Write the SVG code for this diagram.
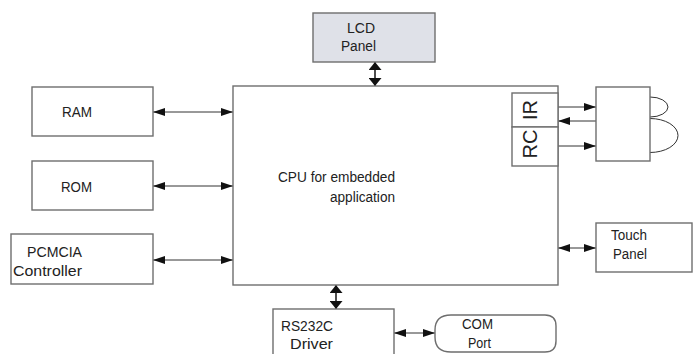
<svg xmlns="http://www.w3.org/2000/svg" width="693" height="354" viewBox="0 0 693 354">
<style>
.box{fill:#fff;stroke:#6e6e6e;stroke-width:1.4}
.lcd{fill:#dfe1e8;stroke:#6e6e6e;stroke-width:1.4}
.t{font-family:"Liberation Sans",Arial,sans-serif;font-size:15.5px;fill:#222}
.big{font-family:"Liberation Sans",Arial,sans-serif;font-size:20px;fill:#222}
.c{stroke:#333;stroke-width:1;fill:none}
.ch{stroke:#333;stroke-width:1;fill:none;marker-start:url(#h);marker-end:url(#h)}
.cv{stroke:#222;stroke-width:1.6;fill:none;marker-start:url(#v);marker-end:url(#v)}
</style>
<defs>
<marker id="h" viewBox="0 0 12 8" refX="12" refY="4" markerWidth="12" markerHeight="8" markerUnits="userSpaceOnUse" orient="auto-start-reverse"><path d="M0,0L12,4L0,8z" fill="#111"/></marker>
<marker id="h1" viewBox="0 0 12 8" refX="12" refY="4" markerWidth="12" markerHeight="8" markerUnits="userSpaceOnUse" orient="auto"><path d="M0,0L12,4L0,8z" fill="#111"/></marker>
<marker id="v" viewBox="0 0 8 13" refX="8" refY="6.5" markerWidth="8" markerHeight="13" markerUnits="userSpaceOnUse" orient="auto-start-reverse"><path d="M0,0L8,6.5L0,13z" fill="#111"/></marker>
</defs>
<g id="connectors">
<line class="cv" x1="375" y1="62" x2="375" y2="86"/>
<line class="ch" x1="153" y1="112" x2="233" y2="112"/>
<line class="ch" x1="153" y1="186" x2="233" y2="186"/>
<line class="ch" x1="153" y1="260" x2="233" y2="260"/>
<line class="c" x1="558" y1="107" x2="596" y2="107" marker-end="url(#h1)"/>
<line class="c" x1="596" y1="121" x2="558" y2="121" marker-end="url(#h1)"/>
<line class="c" x1="558" y1="146" x2="596" y2="146" marker-end="url(#h1)"/>
<line class="ch" x1="558" y1="248" x2="596" y2="248"/>
<line class="cv" x1="336" y1="285" x2="336" y2="309"/>
<line class="ch" x1="394" y1="333" x2="435" y2="333"/>
<path class="c" d="M650,97 A18,10 0 0 1 650,117" stroke="#555"/>
<path class="c" d="M650,118.5 A28,17 0 0 1 650,152.5" stroke="#555"/>
</g>
<g id="cpu">
<rect class="box" x="233" y="86" width="325" height="199"/>
<text class="t" x="278" y="182" textLength="117" lengthAdjust="spacingAndGlyphs">CPU for embedded</text>
<text class="t" x="330" y="202" textLength="65" lengthAdjust="spacingAndGlyphs">application</text>
</g>
<g id="ir-rc">
<rect class="box" x="512" y="93" width="46" height="34"/>
<rect class="box" x="512" y="127" width="46" height="39"/>
<text class="big" transform="translate(537,110) rotate(-90)" text-anchor="middle">IR</text>
<text class="big" transform="translate(537,144) rotate(-90)" text-anchor="middle">RC</text>
</g>
<g id="lcd">
<rect class="lcd" x="313" y="13" width="122" height="49"/>
<text class="t" x="347" y="33" textLength="28" lengthAdjust="spacingAndGlyphs">LCD</text>
<text class="t" x="341" y="51" textLength="35" lengthAdjust="spacingAndGlyphs">Panel</text>
</g>
<g id="ram">
<rect class="box" x="32" y="87" width="121" height="49"/>
<text class="t" x="62" y="117" textLength="30" lengthAdjust="spacingAndGlyphs">RAM</text>
</g>
<g id="rom">
<rect class="box" x="32" y="161" width="121" height="49"/>
<text class="t" x="61" y="192" textLength="31" lengthAdjust="spacingAndGlyphs">ROM</text>
</g>
<g id="pcmcia">
<rect class="box" x="11" y="234" width="142" height="50"/>
<text class="t" x="27" y="257" textLength="55" lengthAdjust="spacingAndGlyphs">PCMCIA</text>
<text class="t" x="13" y="276" textLength="69" lengthAdjust="spacingAndGlyphs">Controller</text>
</g>
<g id="ir-device">
<rect class="box" x="596" y="87" width="54" height="74"/>
</g>
<g id="touch">
<rect class="box" x="596" y="223" width="96" height="49"/>
<text class="t" x="611" y="240" textLength="36" lengthAdjust="spacingAndGlyphs">Touch</text>
<text class="t" x="613" y="259" textLength="34" lengthAdjust="spacingAndGlyphs">Panel</text>
</g>
<g id="rs232c">
<rect class="box" x="273" y="309" width="121" height="50"/>
<text class="t" x="281" y="331" textLength="52" lengthAdjust="spacingAndGlyphs">RS232C</text>
<text class="t" x="290" y="349" textLength="43" lengthAdjust="spacingAndGlyphs">Driver</text>
</g>
<g id="com">
<path class="box" d="M451,315 H545 Q556,315 556,326 V341 Q556,352 545,352 H451 Q435,352 435,337 V330 Q435,315 451,315 Z"/>
<text class="t" x="462" y="329" textLength="31" lengthAdjust="spacingAndGlyphs">COM</text>
<text class="t" x="468" y="348" textLength="23" lengthAdjust="spacingAndGlyphs">Port</text>
</g>
</svg>
